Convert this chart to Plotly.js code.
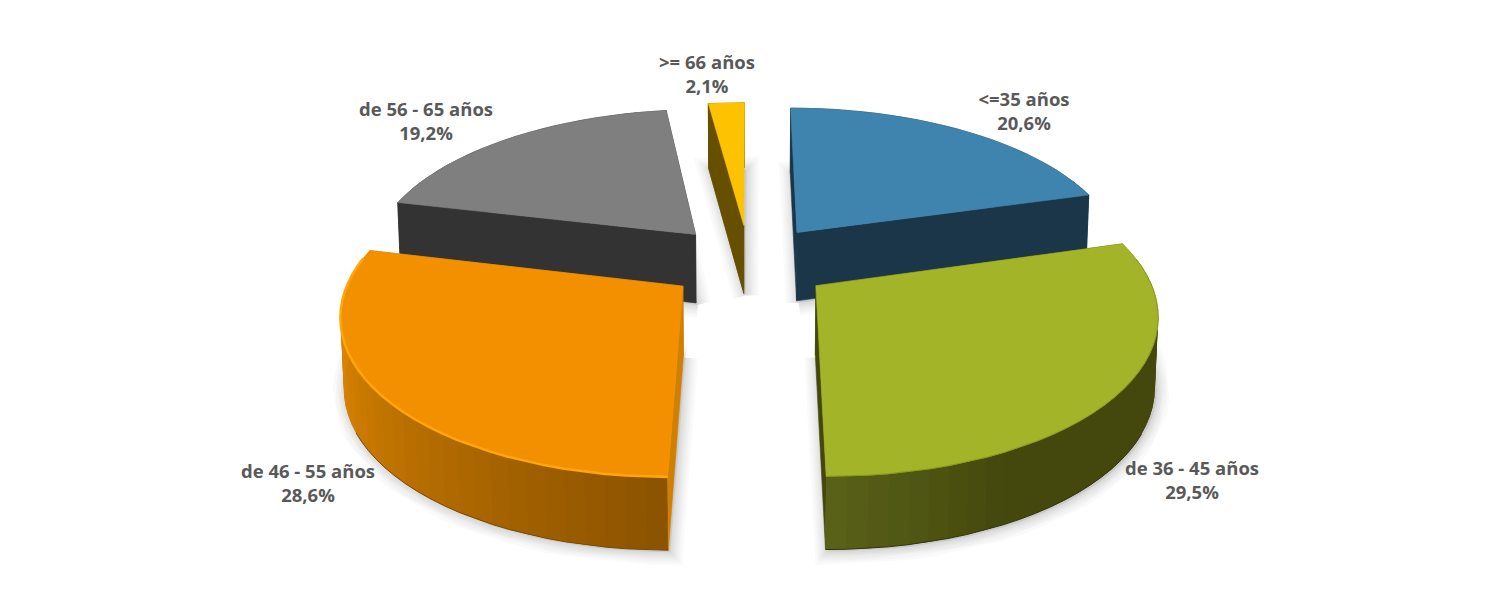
<!DOCTYPE html>
<html><head><meta charset="utf-8">
<script src="https://cdn.plot.ly/plotly-3.0.1.min.js"></script>
<style>html,body{margin:0;padding:0;background:#fff}#c{width:1500px;height:615px}</style>
</head><body><div id="c"></div>
<script>
const categories = ["<=35 años","de 36 - 45 años","de 46 - 55 años","de 56 - 65 años",">= 66 años"];
const shares = [20.6,29.5,28.6,19.2,2.1];
const topColors = ["#3f84af","#a4b428","#f39000","#7f7f7f","#fdc300"];
const wallColors = ["#1b3549","#44480d","#d08000","#333333","#665000"];
const labelX = [1024,1192,308,426,707];
const labelY = [113,482,485,123,76];
const drawOrder = [4,3,0,2,1];

const cam = {cx:749,cy:262,A:328,B:152.5,p:0.157,D:69,q:0.05,e:0.25};
function proj(x,y,low){
  const w=1+cam.p*y;
  let sx=cam.cx+cam.A*x/w, sy=cam.cy-cam.B*y/w;
  if(low){ sy+=cam.D/(1+cam.q*y); sx=cam.cx+(sx-cam.cx)*0.992; }
  return [sx,sy];
}
const rad=d=>d*Math.PI/180;
let cum=0;
const slices=shares.map((s,i)=>{
  const a0=cum*3.6; cum+=s; const a1=cum*3.6; const mid=(a0+a1)/2;
  const ox=cam.e*Math.sin(rad(mid)), oy=cam.e*Math.cos(rad(mid));
  const angs=[]; const n=Math.max(2,Math.round((a1-a0)/3));
  for(let k=0;k<=n;k++) angs.push(a0+(a1-a0)*k/n);
  const rim=(a,low)=>proj(ox+Math.sin(rad(a)),oy+Math.cos(rad(a)),low);
  return {i,a0,a1,ox,oy,angs,rim,apex:l=>proj(ox,oy,l)};
});
const traces=[];
function poly(pts,color,lw){
  traces.push({type:"scatter",mode:"lines",x:pts.map(p=>p[0]).concat(pts[0][0]),y:pts.map(p=>p[1]).concat(pts[0][1]),
    fill:"toself",fillcolor:color,line:{color:color,width:lw===undefined?0.6:lw},hoverinfo:"skip",showlegend:false});
}
function stroke(pts,color,width){
  traces.push({type:"scatter",mode:"lines",x:pts.map(p=>p[0]),y:pts.map(p=>p[1]),
    line:{color:color,width:width},hoverinfo:"skip",showlegend:false});
}
function mix(c1,c2,t){
  const h=c=>[1,3,5].map(j=>parseInt(c.substr(j,2),16));
  const a=h(c1),b=h(c2);
  return "rgb("+a.map((v,j)=>Math.round(v+(b[j]-v)*t)).join(",")+")";
}
function outerColor(i,a){
  if(i===2){ const t=Math.min(1,Math.max(0,(a-180)/75)); return mix("#8a5200","#d98300",t); }
  if(i===1){ const t=Math.min(1,Math.max(0,(180-a)/30)); return mix("#5c6419","#44480d",t); }
  return wallColors[i];
}
// soft shadows beneath the exploded slices
slices.forEach(s=>{
  const pts=[s.apex(true)].concat(s.angs.map(a=>s.rim(a,true)));
  pts.push(pts[0]);
  const sh=pts.map(p=>[p[0]+2,p[1]+2]);
  [26,21,17,13,10,7,4].forEach(w=>stroke(sh,"rgba(0,0,0,0.018)",w));
  poly(sh,"rgba(0,0,0,0.08)",0);
});
// slices, back to front
drawOrder.forEach(idx=>{
  const s=slices[idx];
  const wall=(a,c)=>poly([s.apex(false),s.apex(true),s.rim(a,true),s.rim(a,false)],c);
  // radial wall facing away from the viewer
  wall(idx===2?s.a1:(idx===1?s.a1:(idx===3?s.a1:s.a0)),wallColors[idx]);
  // outer wall
  const last=s.angs.length-1;
  if(idx===0||idx===3||idx===4){
    const ring=s.angs.map(a=>s.rim(a,false)).concat(s.angs.slice().reverse().map(a=>s.rim(a,true)));
    poly(ring,wallColors[idx]);
  } else {
    const order=s.angs.slice(0,-1).map((a,k)=>k);
    if(idx===1) order.reverse();
    order.forEach(k=>{
      const mid=(s.angs[k]+s.angs[k+1])/2;
      const end=Math.min(last,k+2);
      const ring=[];
      for(let j=k;j<=end;j++) ring.push(s.rim(s.angs[j],false));
      for(let j=end;j>=k;j--) ring.push(s.rim(s.angs[j],true));
      poly(ring,outerColor(idx,mid),0);
    });
    const near=s.angs.filter(a=>idx===2?a<=245:a>=115);
    stroke(near.map(a=>s.rim(a,true)),idx===2?"#7a4a00":"#33360a",1);
  }
  // radial wall facing the viewer
  if(idx===0) wall(s.a1,wallColors[0]);
  if(idx===1) wall(s.a0,"#44480d");
  if(idx===2) wall(s.a0,"#d08000");
  if(idx===3) wall(s.a0,wallColors[3]);
  if(idx===4) wall(s.a0,wallColors[4]);
  // top
  const top=[s.apex(false)].concat(s.angs.map(a=>s.rim(a,false)));
  poly(top,topColors[idx]);
  if(idx===2) stroke(s.angs.filter(a=>a<=282).map(a=>s.rim(a,false)),"#ffa60a",2.5);
  if(idx===1) stroke(s.angs.filter(a=>a>=80).map(a=>s.rim(a,false)),"#8a9a20",1);
});
// labels
traces.push({type:"scatter",mode:"text",x:labelX,y:labelY,
  text:categories.map((c,i)=>c+"<br>"+shares[i].toFixed(1).replace(".",",")+"%"),
  textposition:"middle center",
  textfont:{family:"'Open Sans', sans-serif",size:18.5,color:"#595959",weight:700},
  hoverinfo:"skip",showlegend:false});
const layout={width:1500,height:615,margin:{l:0,r:0,t:0,b:0},paper_bgcolor:"#fff",plot_bgcolor:"#fff",
  showlegend:false,
  xaxis:{range:[0,1500],visible:false,fixedrange:true},
  yaxis:{range:[615,0],visible:false,fixedrange:true}};
Plotly.newPlot("c",traces,layout,{displayModeBar:false,staticPlot:true});
</script></body></html>
